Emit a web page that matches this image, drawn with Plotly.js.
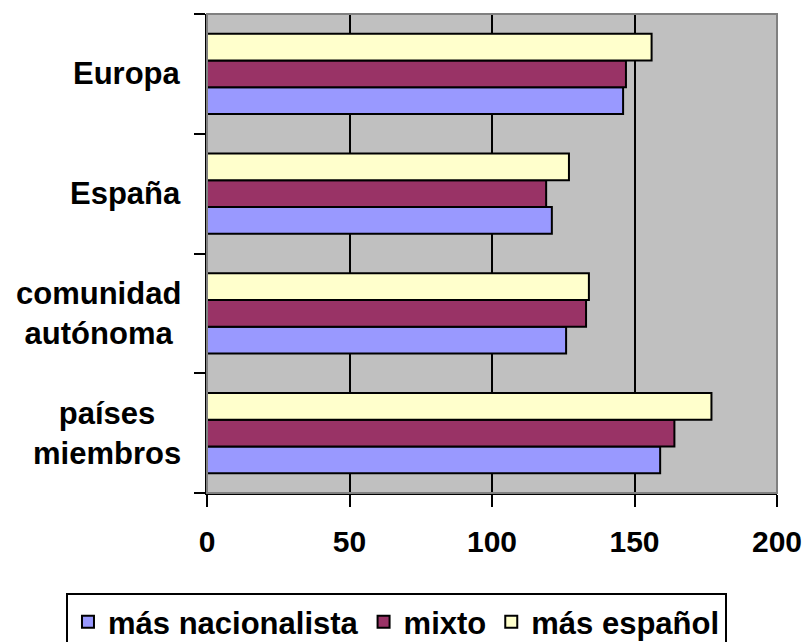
<!DOCTYPE html>
<html>
<head>
<meta charset="utf-8">
<script src="https://cdn.plot.ly/plotly-3.0.1.min.js"></script>
<style>html,body{margin:0;padding:0;background:#fff}#chart{width:808px;height:642px}</style>
</head>
<body>
<div id="chart"></div>
<script>
// categories, top to bottom as shown
const categories = ['Europa', 'España', 'comunidad<br>autónoma', 'países<br>miembros'];
const seriesNames = ['más nacionalista', 'mixto', 'más español'];
const masNacionalista = [146, 121, 126, 159];
const mixto = [147, 119, 133, 164];
const masEspanol = [156, 127, 134, 177];
const xTicks = [0, 50, 100, 150, 200];
const colors = ['#9999FF', '#993366', '#FFFFCC'];

const seriesValues = [masNacionalista, mixto, masEspanol];
const FONT = 'Liberation Sans, Arial, sans-serif';

const traces = seriesValues.map((vals, i) => ({
  type: 'bar',
  orientation: 'h',
  name: seriesNames[i],
  x: vals,
  y: categories,
  marker: {color: colors[i], line: {color: '#000', width: 2}},
  hoverinfo: 'x+y+name'
}));

const annotations = categories.map(c => ({
  xref: 'paper', yref: 'y',
  x: -0.042, y: c,
  xanchor: 'right', yanchor: 'middle',
  align: 'center',
  text: c,
  showarrow: false,
  font: {family: FONT, size: 31, color: '#000', weight: 'bold'}
}));

const layout = {
  width: 808, height: 642,
  margin: {l: 207, r: 31, t: 14, b: 149, pad: 0, autoexpand: false},
  paper_bgcolor: '#fff',
  plot_bgcolor: '#C0C0C0',
  barmode: 'group',
  bargap: 0.33,
  bargroupgap: 0,
  showlegend: true,
  font: {family: FONT, color: '#000'},
  xaxis: {
    range: [0, 200],
    tickvals: xTicks,
    ticktext: xTicks.map(String),
    showgrid: true, gridcolor: '#000', gridwidth: 2,
    zeroline: false,
    showline: true, linecolor: '#000', linewidth: 2,
    ticks: 'outside', ticklen: 12, tickwidth: 2, tickcolor: '#000',
    ticklabelstandoff: 9,
    tickfont: {family: FONT, size: 30, color: '#000', weight: 'bold'},
    fixedrange: true
  },
  yaxis: {
    type: 'category',
    categoryorder: 'array',
    categoryarray: categories.slice().reverse(),
    showticklabels: false,
    showgrid: false,
    zeroline: false,
    showline: true, linecolor: '#000', linewidth: 2,
    ticks: 'outside', tickson: 'boundaries', ticklen: 11, tickwidth: 2, tickcolor: '#000',
    fixedrange: true
  },
  shapes: [{
    type: 'rect', xref: 'paper', yref: 'paper',
    x0: 0, x1: 1, y0: 0, y1: 1,
    line: {color: '#808080', width: 2},
    fillcolor: 'rgba(0,0,0,0)',
    layer: 'above'
  }],
  annotations: annotations,
  legend: {
    orientation: 'h',
    xref: 'paper', yref: 'paper',
    x: -0.2474, xanchor: 'left',
    y: -0.2088, yanchor: 'top',
    bgcolor: '#fff',
    bordercolor: '#000', borderwidth: 2,
    traceorder: 'normal',
    font: {family: FONT, size: 31, color: '#000', weight: 'bold'},
    itemclick: false, itemdoubleclick: false
  }
};

Plotly.newPlot('chart', traces, layout, {displayModeBar: false, staticPlot: true});
</script>
</body>
</html>
